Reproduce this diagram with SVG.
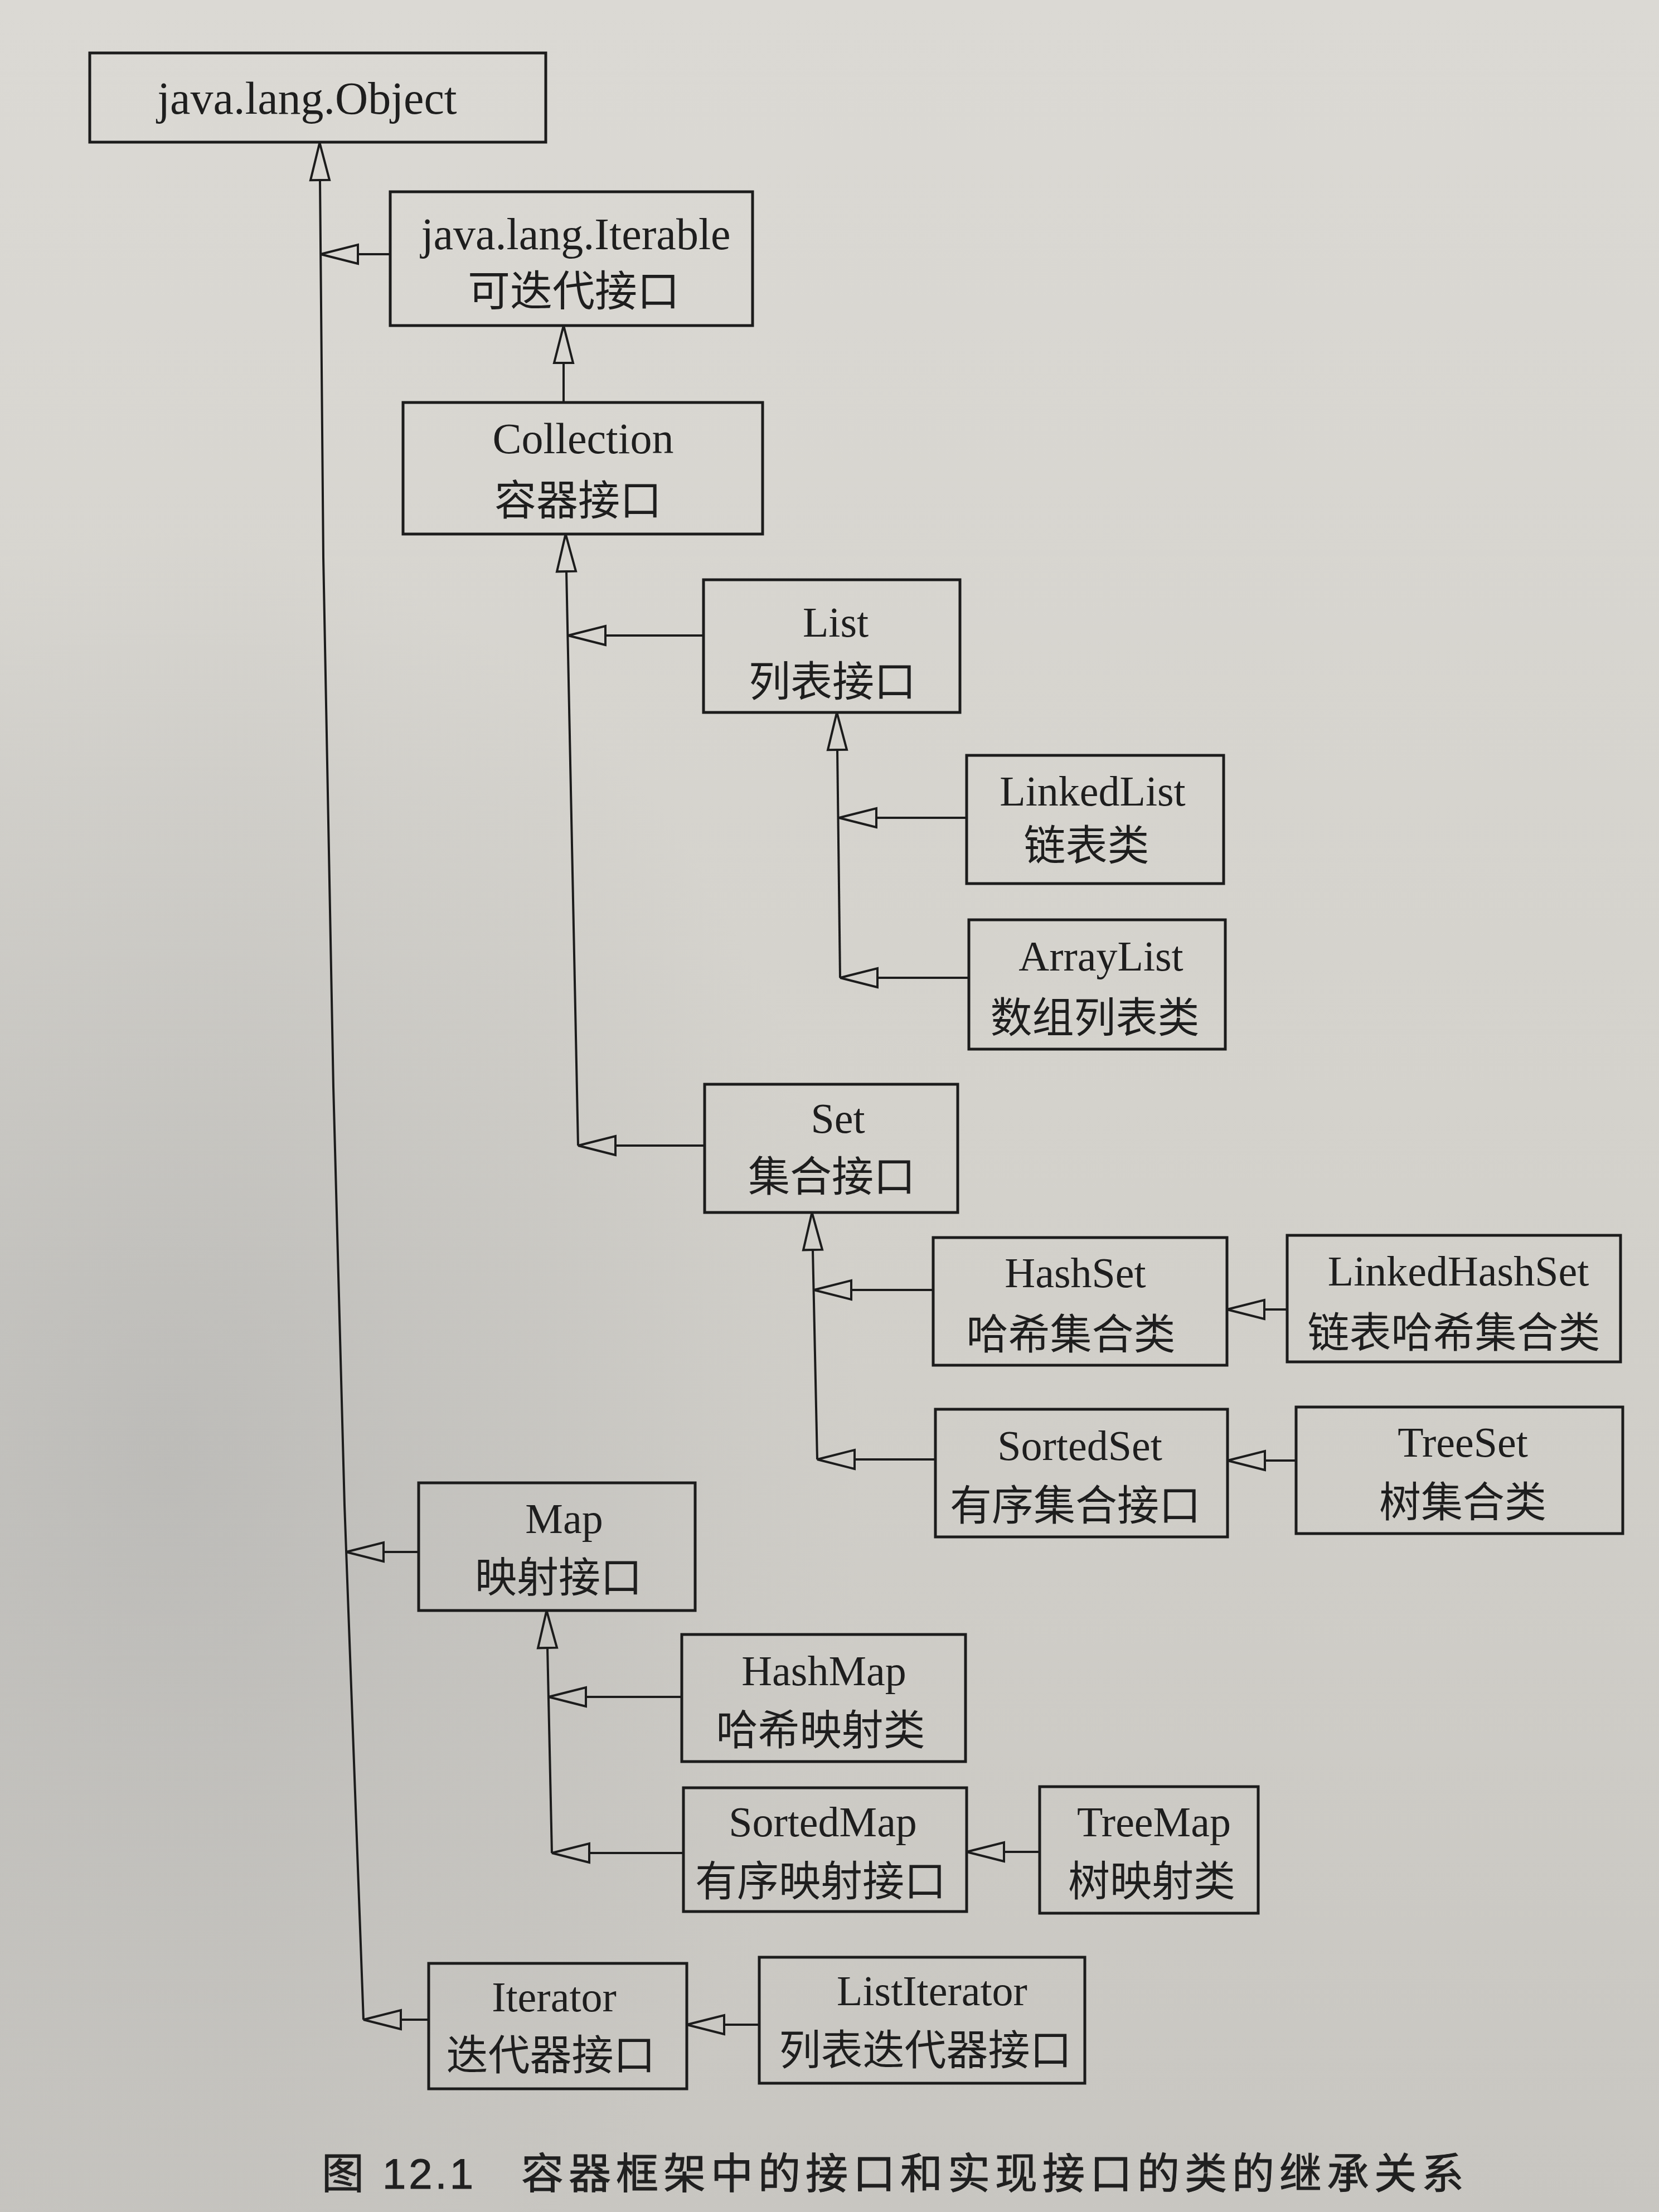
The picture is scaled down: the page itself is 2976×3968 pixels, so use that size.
<svg xmlns="http://www.w3.org/2000/svg" width="2976" height="3968" viewBox="0 0 2976 3968">
<defs>
  <linearGradient id="bg" x1="0" y1="0" x2="0" y2="1">
    <stop offset="0" stop-color="#dbd9d4"/>
    <stop offset="0.5" stop-color="#d4d2cc"/>
    <stop offset="1" stop-color="#c8c6c1"/>
  </linearGradient>
  <radialGradient id="shade" cx="0.1" cy="0.66" r="0.42">
    <stop offset="0" stop-color="#a9a9a8" stop-opacity="0.5"/>
    <stop offset="1" stop-color="#a9a9a8" stop-opacity="0"/>
  </radialGradient>
  <marker id="tri" markerUnits="userSpaceOnUse" viewBox="-4 -24 80 48" markerWidth="80" markerHeight="48" refX="0" refY="0" orient="auto" overflow="visible">
    <path d="M0,-17 L67,0 L0,17 Z" fill="none" stroke="#1c1c1c" stroke-width="4" stroke-linejoin="miter"/>
  </marker>
  <style>
    .box rect { fill: none; stroke: #1c1c1c; stroke-width: 5; }
    .en { font-family: "Liberation Serif", "Times New Roman", serif; font-size: 76px; fill: #1e1e1e; text-anchor: middle; }
    .zh { font-family: "Noto Sans CJK SC", "Noto Sans", sans-serif; font-size: 75px; fill: #1e1e1e; text-anchor: middle; }
    .conn path { fill: none; stroke: #1c1c1c; stroke-width: 4; marker-end: url(#tri); }
    .cap { font-family: "Noto Sans CJK SC", "Noto Sans", sans-serif; font-size: 76px; fill: #202020; stroke: #202020; stroke-width: 1; }
  </style>
</defs>

<rect x="0" y="0" width="2976" height="3968" fill="url(#bg)"/>
<rect x="0" y="0" width="2976" height="3968" fill="url(#shade)"/>

<g id="connectors" class="conn">
  <path d="M652,3623 L618,2700 L598,1950 L580,1000 L574,323"/>
  <path d="M700,456 L642,456"/>
  <path d="M751,2784 L688,2784"/>
  <path d="M769,3623 L719,3623"/>
  <path d="M1011,722 L1011,651"/>
  <path d="M1037,2055 L1016,1025"/>
  <path d="M1262,1140 L1086,1140"/>
  <path d="M1264,2055 L1104,2055"/>
  <path d="M1507,1754 L1502,1345"/>
  <path d="M1734,1467 L1572,1467"/>
  <path d="M1738,1754 L1574,1754"/>
  <path d="M1466,2618 L1458,2242"/>
  <path d="M1674,2314 L1527,2314"/>
  <path d="M1678,2618 L1533,2618"/>
  <path d="M2309,2349 L2268,2349"/>
  <path d="M2325,2620 L2269,2620"/>
  <path d="M990,3324 L982,2956"/>
  <path d="M1223,3044 L1051,3044"/>
  <path d="M1226,3324 L1057,3324"/>
  <path d="M1865,3322 L1801,3322"/>
  <path d="M1362,3632 L1299,3632"/>
</g>

<g id="object" class="box">
  <rect x="161" y="95" width="818" height="160"/>
  <text class="en" x="551" y="204" style="font-size:82px">java.lang.Object</text>
</g>
<g id="iterable" class="box">
  <rect x="700" y="344" width="650" height="240"/>
  <text class="en" x="1033" y="447" style="font-size:80px">java.lang.Iterable</text>
  <text class="zh" x="1029" y="549" style="font-size:76px">可迭代接口</text>
</g>
<g id="collection" class="box">
  <rect x="723" y="722" width="645" height="236"/>
  <text class="en" x="1046" y="813" style="font-size:78px">Collection</text>
  <text class="zh" x="1037" y="924">容器接口</text>
</g>
<g id="list" class="box">
  <rect x="1262" y="1040" width="460" height="238"/>
  <text class="en" x="1499" y="1142">List</text>
  <text class="zh" x="1493" y="1249">列表接口</text>
</g>
<g id="linkedlist" class="box">
  <rect x="1734" y="1355" width="461" height="230"/>
  <text class="en" x="1960" y="1445">LinkedList</text>
  <text class="zh" x="1949" y="1543">链表类</text>
</g>
<g id="arraylist" class="box">
  <rect x="1738" y="1650" width="460" height="232"/>
  <text class="en" x="1975" y="1741">ArrayList</text>
  <text class="zh" x="1964" y="1852">数组列表类</text>
</g>
<g id="set" class="box">
  <rect x="1264" y="1945" width="454" height="230"/>
  <text class="en" x="1503" y="2032">Set</text>
  <text class="zh" x="1492" y="2137">集合接口</text>
</g>
<g id="hashset" class="box">
  <rect x="1674" y="2220" width="527" height="229"/>
  <text class="en" x="1929" y="2309">HashSet</text>
  <text class="zh" x="1921" y="2420">哈希集合类</text>
</g>
<g id="linkedhashset" class="box">
  <rect x="2309" y="2216" width="598" height="227"/>
  <text class="en" x="2616" y="2306">LinkedHashSet</text>
  <text class="zh" x="2608" y="2417">链表哈希集合类</text>
</g>
<g id="sortedset" class="box">
  <rect x="1678" y="2528" width="524" height="229"/>
  <text class="en" x="1937" y="2619">SortedSet</text>
  <text class="zh" x="1929" y="2727">有序集合接口</text>
</g>
<g id="treeset" class="box">
  <rect x="2325" y="2524" width="586" height="227"/>
  <text class="en" x="2624" y="2613">TreeSet</text>
  <text class="zh" x="2624" y="2721">树集合类</text>
</g>
<g id="map" class="box">
  <rect x="751" y="2660" width="496" height="229"/>
  <text class="en" x="1012" y="2750">Map</text>
  <text class="zh" x="1002" y="2856">映射接口</text>
</g>
<g id="hashmap" class="box">
  <rect x="1223" y="2932" width="509" height="228"/>
  <text class="en" x="1478" y="3023">HashMap</text>
  <text class="zh" x="1472" y="3130">哈希映射类</text>
</g>
<g id="sortedmap" class="box">
  <rect x="1226" y="3207" width="508" height="222"/>
  <text class="en" x="1476" y="3294">SortedMap</text>
  <text class="zh" x="1472" y="3401">有序映射接口</text>
</g>
<g id="treemap" class="box">
  <rect x="1865" y="3205" width="392" height="227"/>
  <text class="en" x="2070" y="3294">TreeMap</text>
  <text class="zh" x="2066" y="3401">树映射类</text>
</g>
<g id="iterator" class="box">
  <rect x="769" y="3522" width="463" height="225"/>
  <text class="en" x="994" y="3608">Iterator</text>
  <text class="zh" x="988" y="3713">迭代器接口</text>
</g>
<g id="listiterator" class="box">
  <rect x="1362" y="3511" width="584" height="226"/>
  <text class="en" x="1672" y="3597">ListIterator</text>
  <text class="zh" x="1660" y="3704">列表迭代器接口</text>
</g>

<g id="caption">
  <text class="cap" y="3926"><tspan x="577">图</tspan><tspan x="686" style="font-family:'Liberation Sans',Arial,sans-serif" letter-spacing="5">12.1</tspan><tspan x="935" letter-spacing="9">容器框架中的接口和实现接口的类的继承关系</tspan></text>
</g>
</svg>
